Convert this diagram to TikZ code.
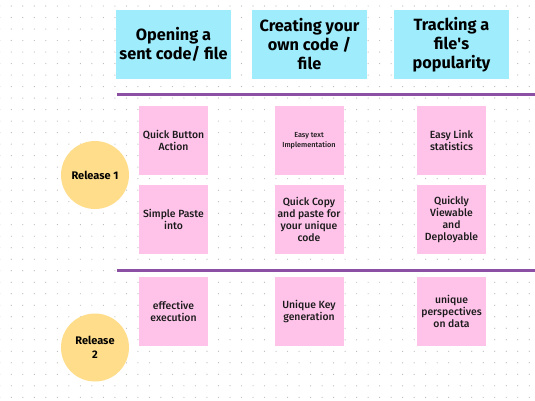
\documentclass[tikz,border=0pt]{standalone}
\usepackage{fontspec}
\setmainfont{Fira Sans}
\newfontfamily\medfont{Fira Sans Medium}
\definecolor{hdrcyan}{HTML}{9FEDFC}
\definecolor{notepink}{HTML}{FFC3EA}
\definecolor{relyellow}{HTML}{FFDD8A}
\definecolor{divpurple}{HTML}{8B4FA3}
\definecolor{dotgray}{HTML}{B8B8B8}
\definecolor{inktext}{HTML}{1A1A1A}
\begin{document}
\begin{tikzpicture}[x=1pt,y=-1pt,
  hdrbox/.style={fill=hdrcyan, minimum width=115pt, minimum height=69pt, inner sep=0pt,
    align=center, font=\fontsize{16.3}{19}\selectfont\bfseries, text=black},
  notebox/.style={fill=notepink, minimum width=69pt, minimum height=69pt, inner sep=0pt,
    align=center, font=\fontsize{10.4}{12}\selectfont\medfont, text=inktext},
  smallnote/.style={notebox, font=\fontsize{7.3}{10}\selectfont\medfont},
  relcircle/.style={circle, fill=relyellow, minimum size=68pt, inner sep=0pt,
    align=center, font=\fontsize{11}{13.5}\selectfont\bfseries, text=black},
  divider/.style={draw=divpurple, line width=3pt}]
\useasboundingbox (0,0) rectangle (535,400);
\fill[white] (0,0) rectangle (535,400);
% dot grid
\foreach \i in {0,...,46}{
  \foreach \j in {0,...,34}{
    \fill[dotgray] ({-0.2+11.51*\i},{6+11.51*\j}) circle (0.6pt);
  }
}
% headers
\node[hdrbox] (h1) at (173.5,44.5) {Opening a\\sent code/ file};
\node[hdrbox] (h2) at (309.5,44.5) {Creating your\\own code /\\file};
\node[hdrbox] (h3) at (451.5,44.5) {Tracking a\\file\textquotesingle s\\popularity};
% dividers
\coordinate (d1a) at (117,94.7);
\coordinate (d1b) at (535,94.7);
\coordinate (d2a) at (117,270.5);
\coordinate (d2b) at (535,270.5);
\draw[divider] (d1a) -- (d1b);
\draw[divider] (d2a) -- (d2b);
% release circles
\node[relcircle] (r1) at (95,175) {Release 1};
\node[relcircle] (r2) at (95,347.5) {Release\\2};
% notes row 1
\node[notebox] (n11) at (173.5,140.5) {Quick Button\\Action};
\node[smallnote] (n12) at (309,140.5) {Easy text\\Implementation};
\node[notebox] (n13) at (451.5,140.5) {Easy Link\\statistics};
% notes row 2
\node[notebox] (n21) at (173.5,219.5) {Simple Paste\\into};
\node[notebox] (n22) at (309,219.5) {Quick Copy\\and paste for\\your unique\\code};
\node[notebox] (n23) at (451.5,219.5) {Quickly\\Viewable\\and\\Deployable};
% notes row 3
\node[notebox] (n31) at (173.5,311) {effective\\execution};
\node[notebox] (n32) at (309,311) {Unique Key\\generation};
\node[notebox] (n33) at (451.5,311) {unique\\perspectives\\on data};
\end{tikzpicture}
\end{document}
